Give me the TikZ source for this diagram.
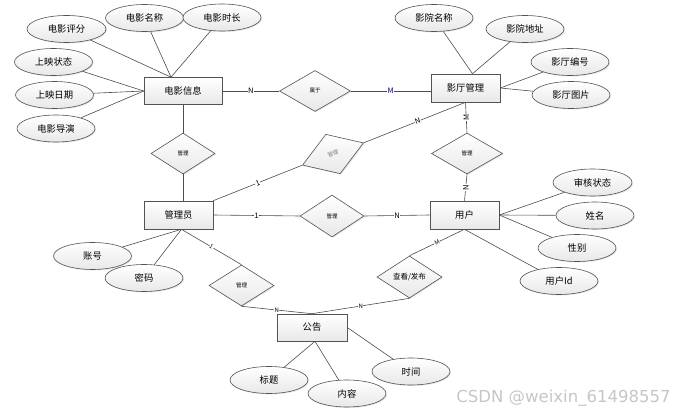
\documentclass[tikz,border=0pt]{standalone}
\usepackage{fontspec}
\newfontfamily\cjk{Noto Sans CJK SC}
\newfontfamily\wmfont{DejaVu Sans}
\usetikzlibrary{shapes.geometric,shadows}

\begin{document}
\begin{tikzpicture}[x=1pt, y=-1pt, line width=0.6pt,
    box/.style = {draw=gray!65!black, top color=white, bottom color=gray!18,
                  drop shadow={shadow xshift=1pt, shadow yshift=-1pt, opacity=0.2}},
    entity/.style = {box, rectangle, minimum width=70pt, minimum height=27pt, inner sep=0pt,
                     font=\cjk\fontsize{9.3}{10}\selectfont},
    attr/.style = {box, ellipse, minimum width=78pt, minimum height=27pt, inner sep=0pt,
                   font=\cjk\fontsize{9.3}{10}\selectfont},
    rel/.style = {box, diamond, minimum width=65pt, minimum height=41pt, inner sep=0pt,
                  font=\cjk\fontsize{5.5}{6}\selectfont},
    lbl/.style = {fill=white, inner sep=0.4pt, font=\cjk\fontsize{7.5}{8}\selectfont},
    link/.style = {draw=gray!60!black}]
    \useasboundingbox (0,0) rectangle (694,417);

    % entities
    \node[entity, minimum width=78pt] (film) at (183,91) {电影信息};
    \node[entity, minimum width=69pt, minimum height=28pt] (hall) at (465.5,88) {影厅管理};
    \node[entity, minimum width=69pt, minimum height=28pt] (admin) at (178.5,215) {管理员};
    \node[entity, minimum width=69pt, minimum height=28pt] (user) at (464.5,215) {用户};
    \node[entity] (notice) at (312,327.5) {公告};

    % relations
    \node[rel, minimum width=71pt] (belong) at (315,91) {属于};
    \node[rel, minimum width=64pt] (mgr1) at (183,153.5) {管理};
    \node[rel, minimum width=71pt] (mgr2) at (467,153.5) {管理};
    \node[rel, minimum width=64pt, minimum height=42pt] (mgr3) at (332,216) {管理};
    \node[rel, minimum height=42pt, rotate=20, text=gray] (view) at (333,154) {管理};
    \node[rel] (mgr4) at (241.5,285.5) {管理};
    \node[rel, minimum height=42pt, font=\cjk\fontsize{7.5}{8}\selectfont] (post) at (409.5,277) {查看/发布};

    % attributes
    \node[attr, minimum width=79pt] (score) at (66.5,29) {电影评分};
    \node[attr] (fname) at (144.5,18) {电影名称};
    \node[attr] (length) at (222,17.5) {电影时长};
    \node[attr] (state) at (53.5,62) {上映状态};
    \node[attr] (date) at (54.5,95) {上映日期};
    \node[attr] (director) at (56,128.5) {电影导演};
    \node[attr] (cname) at (434,18) {影院名称};
    \node[attr] (caddr) at (525,29) {影院地址};
    \node[attr] (hno) at (570,62) {影厅编号};
    \node[attr] (hpic) at (571,95) {影厅图片};
    \node[attr, minimum width=79pt] (audit) at (592.5,182.5) {审核状态};
    \node[attr] (uname) at (595,215.5) {姓名};
    \node[attr] (gender) at (577,248) {性别};
    \node[attr] (uid) at (559,281) {用户Id};
    \node[attr] (account) at (92.5,256) {账号};
    \node[attr] (pwd) at (144,278) {密码};
    \node[attr] (title) at (269,380) {标题};
    \node[attr] (content) at (347,393.5) {内容};
    \node[attr] (time) at (411,371.5) {时间};

    \node[text=gray!45, font=\wmfont\fontsize{16.5}{18}\selectfont] (watermark) at (563.5,398.5) {CSDN @weixin\_61498557};

    % attribute links
    \draw[link] (score) -- ([xshift=-12pt]film.north);
    \draw[link] (fname) -- ([xshift=-12pt]film.north);
    \draw[link] (length) -- ([xshift=-12pt]film.north);
    \draw[link] (state) -- (film.west);
    \draw[link] (date) -- (film.west);
    \draw[link] (director) -- (film.west);
    \draw[link] (cname) -- ([xshift=7pt]hall.north);
    \draw[link] (caddr) -- ([xshift=7pt]hall.north);
    \draw[link] (hno) -- (hall.east);
    \draw[link] (hpic) -- (hall.east);
    \draw[link] (audit) -- (user.east);
    \draw[link] (uname) -- (user.east);
    \draw[link] (gender) -- (user.east);
    \draw[link] (uid) -- (user.south);
    \draw[link] (account) -- ([xshift=3pt]admin.south);
    \draw[link] (pwd) -- ([xshift=3pt]admin.south);
    \draw[link] (title) -- ([xshift=3pt]notice.south);
    \draw[link] (content) -- ([xshift=3pt]notice.south);
    \draw[link] (time) -- (notice.east);

    % relation links
    \draw[link] (film.east) -- node[lbl] {N} (belong.west);
    \draw[link] (belong.east) -- node[lbl, text=blue!40!black] {M} (hall.west |- belong.east);
    \draw[link] (film.south) -- (mgr1.north);
    \draw[link] (mgr1.south) -- (admin.north -| mgr1.south);
    \draw[link] (hall.south) -- node[lbl, rotate=90] {M} (mgr2.north);
    \draw[link] (mgr2.south) -- node[lbl, rotate=90] {N} (user.north);
    \draw[link] (admin.east) -- node[lbl] {1} (mgr3.west);
    \draw[link] (mgr3.east) -- node[lbl] {N} (user.west);
    \draw[link] (admin.north east) -- node[lbl, sloped] {1} (view.west);
    \draw[link] (view.east) -- node[lbl, sloped, pos=0.53] {N} (hall.south);
    \draw[link] ([xshift=3pt]admin.south) -- node[lbl, sloped, font=\cjk\fontsize{6}{6}\selectfont] {1} (mgr4.north);
    \draw[link] (mgr4.south) -- node[lbl, font=\cjk\fontsize{6}{6}\selectfont] {N} (notice.north);
    \draw[link] (notice.north) -- node[lbl, font=\cjk\fontsize{6}{6}\selectfont] {N} (post.south);
    \draw[link] (post.north) -- node[lbl, sloped, font=\cjk\fontsize{6}{6}\selectfont] {M} (user.south);
\end{tikzpicture}
\end{document}
